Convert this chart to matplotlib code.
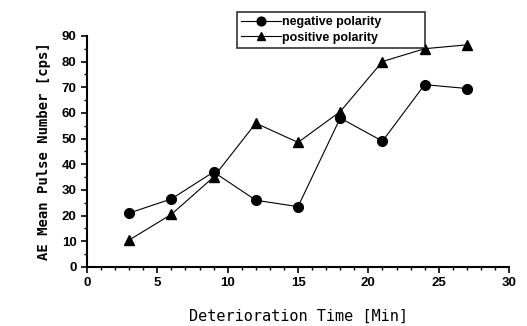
import matplotlib
matplotlib.use("Agg")
import matplotlib.pyplot as plt
from matplotlib.ticker import MultipleLocator

time_min = [3, 6, 9, 12, 15, 18, 21, 24, 27]
negative = [21, 26.5, 37, 26, 23.5, 58, 49, 71, 69.5]
positive = [10.5, 20.5, 35, 56, 48.5, 60.5, 80, 85, 86.5]

fig = plt.figure(figsize=(5.27, 3.26), dpi=100)
ax = fig.add_axes([0.165, 0.181, 0.801, 0.709])

ax.plot(time_min, negative, color="black", lw=0.8, marker="o", ms=7, label="negative polarity")
ax.plot(time_min, positive, color="black", lw=0.8, marker="^", ms=7, label="positive polarity")

ax.set_xlim(0, 30)
ax.set_ylim(0, 90)
ax.xaxis.set_major_locator(MultipleLocator(5))
ax.xaxis.set_minor_locator(MultipleLocator(1))
ax.yaxis.set_major_locator(MultipleLocator(10))
ax.yaxis.set_minor_locator(MultipleLocator(5))
for s in ["top", "right"]:
    ax.spines[s].set_visible(False)
for s in ["left", "bottom"]:
    ax.spines[s].set_linewidth(1.5)
ax.tick_params(which="major", direction="out", length=4, width=1.2, labelsize=9.5)
ax.tick_params(which="minor", direction="out", length=2, width=1)
for lab in ax.get_xticklabels() + ax.get_yticklabels():
    lab.set_fontweight("bold")
    lab.set_family("Liberation Sans")

ax.set_xlabel("Deterioration Time [Min]", fontsize=11, family="DejaVu Sans Mono", labelpad=14)
ax.set_ylabel("AE Mean Pulse Number [cps]", fontsize=10, family="DejaVu Sans Mono",
              fontweight="bold", labelpad=8)

leg = ax.legend(loc="lower left", bbox_to_anchor=(0.355, 0.948, 0.446, 0.165), mode="expand",
                frameon=True, fancybox=False, edgecolor="black", handlelength=3.2,
                handletextpad=0.1, borderpad=0.35, labelspacing=0.25, markerscale=0.9,
                borderaxespad=0,
                prop={"family": "Liberation Sans", "weight": "bold", "size": 9})
leg.get_frame().set_linewidth(1.2)

fig.savefig("out.png", dpi=100)
